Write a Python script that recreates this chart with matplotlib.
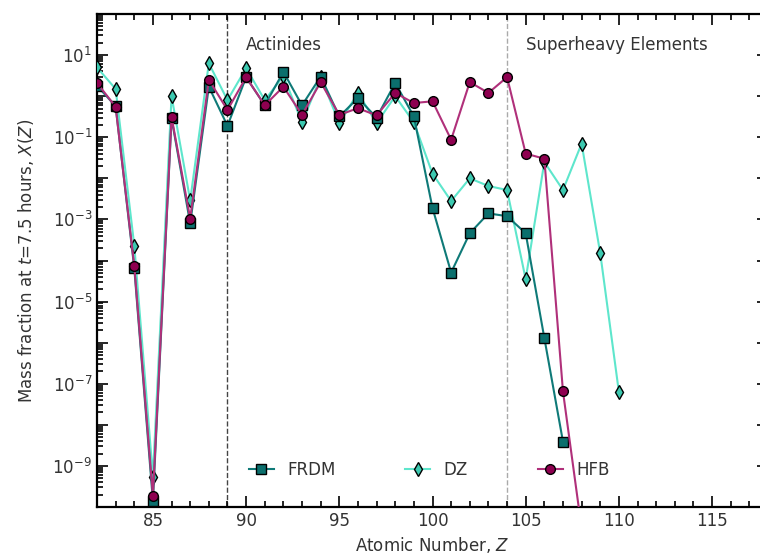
import numpy as np
import matplotlib
matplotlib.use("Agg")
from matplotlib import pyplot as plt
from matplotlib import ticker

z_frdm = list(range(82, 108))
x_frdm = [1.8, 0.57, 6.5e-5, 1.4e-10, 0.29, 8e-4, 1.7, 0.19, 2.9, 0.6,
          3.9, 0.6, 3.0, 0.32, 0.9, 0.3, 2.1, 0.32, 1.9e-3, 5.1e-5,
          4.6e-4, 1.4e-3, 1.2e-3, 4.6e-4, 1.3e-6, 3.9e-9]

z_dz = list(range(82, 111))
x_dz = [5.0, 1.5, 2.3e-4, 5.5e-10, 1.0, 2.9e-3, 6.3, 0.8, 4.8, 0.8,
        3.1, 0.23, 2.9, 0.22, 1.2, 0.22, 1.0, 0.23, 1.3e-2, 2.8e-3,
        1.0e-2, 6.5e-3, 5.2e-3, 3.5e-5, 2.5e-2, 5.2e-3, 0.07, 1.5e-4, 6.3e-8]

z_hfb = list(range(82, 109))
x_hfb = [2.1, 0.55, 7.5e-5, 1.9e-10, 0.31, 1.05e-3, 2.5, 0.46, 2.9, 0.6,
         1.7, 0.35, 2.2, 0.35, 0.51, 0.34, 1.2, 0.68, 0.75, 0.087,
         2.2, 1.2, 2.9, 0.04, 0.03, 6.5e-8, 3e-11]

region_z = [89, 104]
region_labels = ["Actinides", "Superheavy Elements"]

plt.rcParams['font.family'] = ['DejaVu Sans']
plt.rcParams['mathtext.fontset'] = 'dejavusans'
text_col = '#333333'

fig = plt.figure(figsize=(7.6, 5.6), dpi=100)
ax = fig.add_axes([97 / 760, 53 / 560, 671 / 760, 493 / 560])

ax.axvline(region_z[0], color='#444444', ls='--', lw=1.0, zorder=1)
ax.axvline(region_z[1], color='#aaaaaa', ls='--', lw=1.0, zorder=1)

ax.plot(z_dz, x_dz, color='#5ee6cc', lw=1.5, marker='d', ms=7,
        mfc='#3cc9b0', mec='black', mew=1.0, label='DZ', zorder=3)
ax.plot(z_frdm, x_frdm, color='#0f7a78', lw=1.5, marker='s', ms=6.5,
        mfc='#0b6f6d', mec='black', mew=1.0, label='FRDM', zorder=4)
ax.plot(z_hfb, x_hfb, color='#b0307a', lw=1.5, marker='o', ms=7,
        mfc='#8e0050', mec='black', mew=1.0, label='HFB', zorder=5)

ax.set_yscale('log')
ax.set_xlim(82, 118)
ax.set_ylim(1e-10, 1e2)

ax.xaxis.set_major_locator(ticker.MultipleLocator(5))
ax.xaxis.set_minor_locator(ticker.MultipleLocator(1))
ax.yaxis.set_major_locator(ticker.LogLocator(base=10, numticks=20))
ax.yaxis.set_minor_locator(ticker.LogLocator(base=10, subs=np.arange(2, 10), numticks=20))


def odd_powers(val, pos):
    e = int(round(np.log10(val)))
    if e % 2 == 0:
        return ''
    return r'$10^{%d}$' % e


ax.yaxis.set_major_formatter(ticker.FuncFormatter(odd_powers))
ax.yaxis.set_minor_formatter(ticker.NullFormatter())

ax.tick_params(which='both', direction='in', top=True, right=True,
               labelsize=12, labelcolor=text_col, width=1.2)
ax.tick_params(which='major', length=8)
ax.tick_params(which='minor', length=4)
for sp in ax.spines.values():
    sp.set_linewidth(1.6)

trans = matplotlib.transforms.blended_transform_factory(ax.transData, ax.transAxes)
ax.text(region_z[0] + 1.0, 0.937, region_labels[0], transform=trans,
        fontsize=12, color=text_col, va='center', ha='left')
ax.text(region_z[1] + 1.0, 0.937, region_labels[1], transform=trans,
        fontsize=12, color=text_col, va='center', ha='left')

ax.set_xlabel(r'Atomic Number, $Z$', fontsize=12, color=text_col, labelpad=4)
ax.set_ylabel(r'Mass fraction at $t$=7.5 hours, $X(Z)$', fontsize=12,
              color=text_col, labelpad=12)

handles, labels = ax.get_legend_handles_labels()
order = [1, 0, 2]
leg = ax.legend([handles[i] for i in order], [labels[i] for i in order],
                loc='center', bbox_to_anchor=(0.495, 0.075), ncol=3,
                frameon=False, handlelength=1.5, columnspacing=4.2,
                fontsize=12)
for t in leg.get_texts():
    t.set_color(text_col)

fig.savefig('out.png', dpi=100)
